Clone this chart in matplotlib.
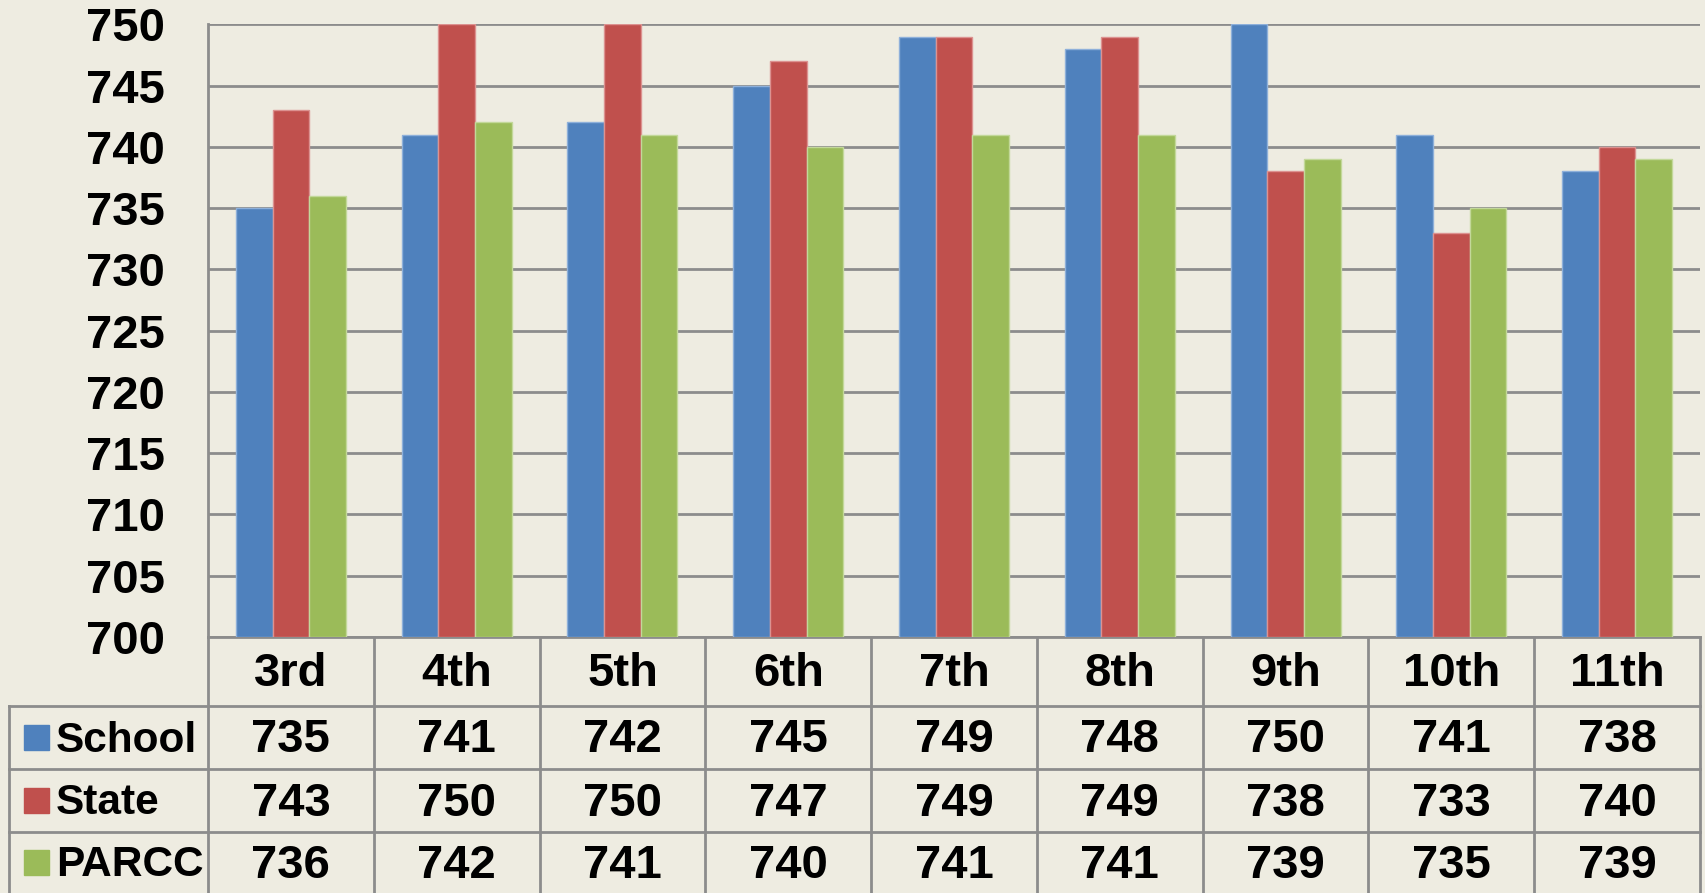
import numpy as np
import matplotlib
matplotlib.use("Agg")
import matplotlib.pyplot as plt
import matplotlib.transforms as mtransforms
from matplotlib.lines import Line2D
from matplotlib.patches import Rectangle

grades = ["3rd", "4th", "5th", "6th", "7th", "8th", "9th", "10th", "11th"]
school = [735, 741, 742, 745, 749, 748, 750, 741, 738]
state = [743, 750, 750, 747, 749, 749, 738, 733, 740]
parcc = [736, 742, 741, 740, 741, 741, 739, 735, 739]
series_names = ["School", "State", "PARCC"]
yticks = list(range(700, 751, 5))

colors = ["#4F81BD", "#C0504D", "#9BBB59"]
edges = ["#8EB0DA", "#DC9290", "#C3D89A"]
bg = "#EEECE1"
grid_c = "#8C8C8C"

plt.rcParams["font.family"] = ["Liberation Sans", "DejaVu Sans"]

W, H = 1706, 893
fig = plt.figure(figsize=(W / 100, H / 100), dpi=100, facecolor=bg)

# plot area in pixels
x0, x1 = 208, 1700
y_top, y_bot = 24.3, 637
ax = fig.add_axes([x0 / W, 1 - y_bot / H, (x1 - x0) / W, (y_bot - y_top) / H])
ax.set_facecolor(bg)

x = np.arange(len(grades))
bw = 0.221
for k, vals in enumerate([school, state, parcc]):
    ax.bar(x + (k - 1) * bw, np.array(vals) - 700, bottom=700, width=bw,
           color=colors[k], edgecolor=edges[k], linewidth=1, zorder=3)

ax.set_xlim(-0.5, len(grades) - 0.5)
ax.set_ylim(700, 750)
ax.set_yticks(yticks)
ax.set_yticklabels([str(t) for t in yticks], fontsize=34, fontweight="bold")
ax.set_xticks([])
ax.tick_params(axis="y", length=0, pad=31)
ax.yaxis.grid(True, color=grid_c, linewidth=2)
ax.set_axisbelow(True)
for s in ["top", "right"]:
    ax.spines[s].set_visible(False)
for s in ["left", "bottom"]:
    ax.spines[s].set_color(grid_c)
    ax.spines[s].set_linewidth(2)

# data table under the chart
def fy(py):
    return 1 - py / H

trans = mtransforms.blended_transform_factory(ax.transData, fig.transFigure)
row_lines = [706, 769, 832]
row_mid = [740.5, 803.5, 865.5]
head_mid = 674

for i in range(len(grades) + 1):
    fig.add_artist(Line2D([i - 0.5, i - 0.5], [fy(y_bot), 0], transform=trans,
                          color=grid_c, linewidth=2, clip_on=False))
for py in row_lines:
    fig.add_artist(Line2D([9 / W, x1 / W], [fy(py), fy(py)], transform=fig.transFigure,
                          color=grid_c, linewidth=2))
fig.add_artist(Line2D([9 / W, 9 / W], [fy(row_lines[0]), 0], transform=fig.transFigure,
                      color=grid_c, linewidth=2))

for i, g in enumerate(grades):
    fig.text(i, fy(head_mid), g, transform=trans, ha="center", va="center",
             fontsize=34, fontweight="bold")

for r, (name, vals) in enumerate(zip(series_names, [school, state, parcc])):
    ym = fy(row_mid[r])
    fig.add_artist(Rectangle((24 / W, fy(row_mid[r] - 3) - 12.5 / H), 25 / W, 25 / H,
                             transform=fig.transFigure, color=colors[r]))
    fig.text(56 / W, ym, name, ha="left", va="center", fontsize=30.5, fontweight="bold")
    for i, v in enumerate(vals):
        fig.text(i, ym, str(v), transform=trans, ha="center", va="center",
                 fontsize=34, fontweight="bold")

fig.savefig("out.png", dpi=100, facecolor=bg)
